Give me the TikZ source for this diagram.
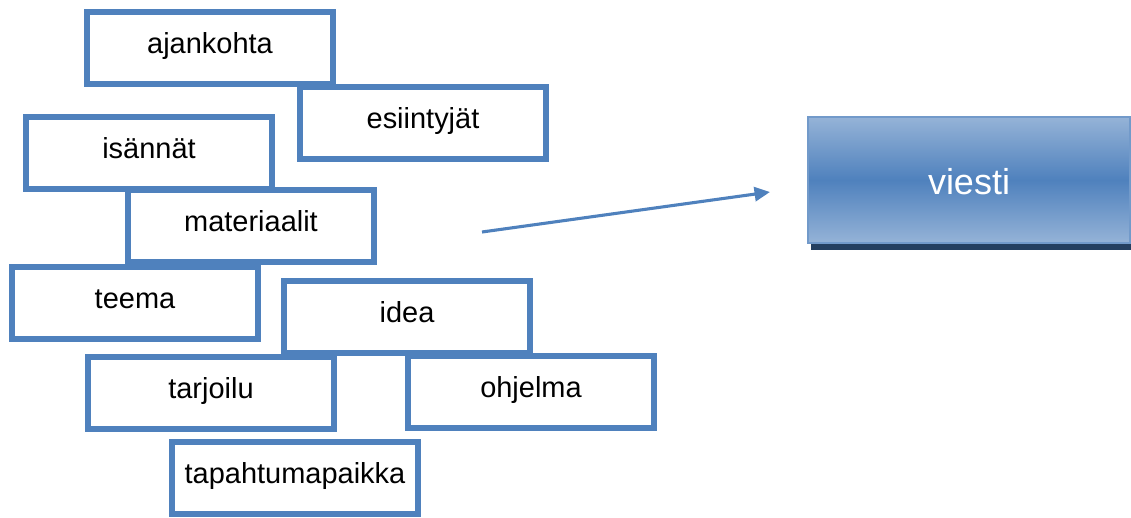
\documentclass[tikz,border=0pt]{standalone}
\usepackage{fontspec}
\setmainfont{Liberation Sans}
\usetikzlibrary{arrows.meta}
\definecolor{boxblue}{RGB}{79,129,189}
\definecolor{lightblue}{RGB}{149,179,215}
\definecolor{shadowblue}{RGB}{36,63,96}

\begin{document}
\begin{tikzpicture}[x=0.025cm,y=-0.025cm,
    sana/.style={draw=boxblue,line width=4.27pt,fill=white,minimum width=6.15cm,minimum height=1.8cm,
      inner sep=0pt,text height=15pt,text depth=7.8pt,font=\fontsize{20.6}{24}\selectfont},
    viestibox/.style={draw=boxblue!80!white,line width=1.4pt,top color=lightblue,bottom color=lightblue,
      middle color=boxblue,minimum width=8.05cm,minimum height=3.15cm,text=white,inner sep=0pt,
      text height=22pt,text depth=0.7pt,font=\fontsize{25.6}{30}\selectfont}]
            \useasboundingbox (0,0) rectangle (1131,518);
            \node[sana] (ajankohta) at (210,48) {ajankohta};
            \node[sana] (esiintyjat) at (423,123) {esiintyjät};
            \node[sana] (isannat) at (149,153) {isännät};
            \node[sana] (materiaalit) at (251,226) {materiaalit};
            \node[sana] (teema) at (135,303) {teema};
            \node[sana] (idea) at (407,317) {idea};
            \node[sana] (tarjoilu) at (211,393) {tarjoilu};
            \node[sana] (ohjelma) at (531,392) {ohjelma};
            \node[sana] (paikka) at (295,478) {tapahtumapaikka};
            \fill[shadowblue] (811,242) rectangle (1131,250);
            \node[viestibox] (viesti) at (969,180) {viesti};
            \coordinate (alku) at (482,232);
            \coordinate (loppu) at (770,192);
            \draw[boxblue,line width=2.2pt,-{Triangle[length=11pt,width=10pt]}] (alku) -- (loppu);
        \end{tikzpicture}
\end{document}
